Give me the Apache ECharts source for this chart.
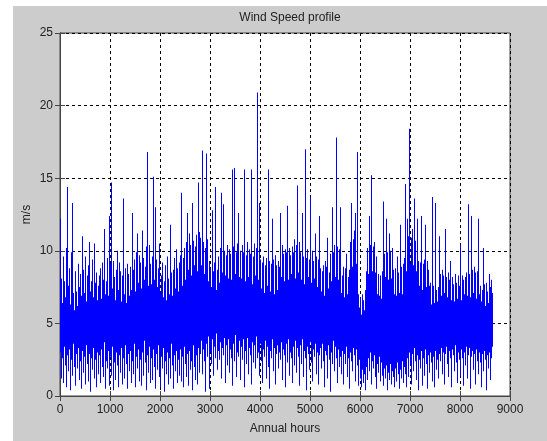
<!DOCTYPE html>
<html>
<head>
<meta charset="utf-8">
<script src="https://cdn.jsdelivr.net/npm/echarts@6/dist/echarts.min.js"></script>
<style>
  html, body { margin: 0; padding: 0; background: #fff; }
  #panel { position: absolute; left: 13px; top: 6px; width: 534px; height: 435px; background: #cccccc; }
  #main { position: absolute; left: 0; top: 0; width: 547px; height: 441px; }
</style>
</head>
<body>
<div id="panel"></div>
<div id="main"></div>
<script>
// hourly wind speed is too dense to read point by point, so each 20-hour
// slot keeps the highest and lowest speed (m/s) seen in it on the plot
var hourStep = 20;
var peak = [
  12.2, 8.1, 6.4, 9.6, 7.9, 6.8, 10.2, 14.4, 7.6, 8.8, 6.3, 9.9, 13.3, 7.1, 5.9, 8.6, 7.2, 6.2, 9.1, 7.5,
  8.4, 6.9, 11.0, 8.7, 7.1, 9.6, 6.5, 8.3, 9.0, 10.6, 7.2, 7.9, 9.4, 6.8, 10.5, 7.8, 8.5, 6.6, 7.6, 8.3,
  8.8, 6.7, 9.2, 8.0, 11.5, 7.0, 7.9, 9.5, 6.9, 12.4, 9.1, 14.7, 7.4, 9.3, 8.2, 6.6, 8.7, 10.0, 7.3, 9.2,
  8.6, 6.5, 8.3, 13.6, 7.0, 8.8, 6.4, 9.1, 8.4, 6.9, 8.9, 7.3, 12.6, 8.7, 9.4, 7.2, 9.9, 11.2, 7.8, 9.7,
  9.2, 7.4, 11.4, 9.5, 8.0, 8.9, 10.3, 16.8, 7.6, 10.4, 9.1, 7.7, 9.6, 15.1, 8.0, 13.0, 9.4, 7.5, 8.8, 10.5,
  7.1, 8.3, 9.2, 6.8, 7.9, 9.0, 6.6, 9.6, 8.1, 7.0, 11.8, 8.5, 6.9, 8.7, 9.5, 7.4, 10.1, 8.8, 7.2, 9.2,
  9.7, 14.0, 7.6, 9.5, 10.2, 8.0, 10.6, 12.6, 8.7, 11.2, 10.4, 8.3, 13.3, 10.7, 9.0, 10.3, 11.1, 8.6, 14.7, 11.3,
  10.9, 9.0, 16.9, 10.6, 8.4, 10.2, 16.7, 10.8, 7.9, 9.3, 8.8, 7.5, 12.8, 8.6, 9.2, 14.4, 7.3, 8.7, 9.6, 7.8,
  10.2, 14.0, 8.5, 13.2, 10.0, 8.3, 9.7, 10.4, 8.1, 10.1, 9.8, 8.0, 15.6, 10.3, 15.7, 8.4, 9.9, 10.5, 12.6, 8.2,
  10.0, 8.1, 10.4, 9.9, 15.6, 7.9, 9.7, 10.6, 8.2, 10.1, 9.8, 15.6, 7.7, 9.6, 10.5, 8.3, 10.2, 20.9, 8.0, 13.3,
  9.4, 7.4, 9.2, 9.6, 7.1, 9.0, 9.5, 7.6, 15.6, 9.3, 7.2, 9.1, 12.2, 9.4, 7.0, 9.7, 9.0, 7.3, 9.3, 8.9,
  12.6, 8.2, 10.4, 9.8, 7.9, 10.1, 9.9, 13.1, 8.0, 10.2, 9.7, 8.4, 10.3, 9.9, 10.8, 8.1, 10.4, 14.5, 8.5, 10.6,
  9.9, 8.0, 12.6, 9.6, 7.7, 17.0, 9.5, 10.1, 8.2, 9.4, 13.7, 7.8, 10.0, 9.3, 8.1, 11.2, 9.6, 7.5, 9.4, 12.4,
  8.8, 7.2, 8.6, 9.0, 6.9, 9.3, 8.9, 10.9, 7.4, 8.5, 9.8, 7.9, 13.0, 9.9, 10.4, 8.2, 17.8, 10.3, 8.0, 10.1,
  13.0, 7.1, 8.3, 8.9, 6.8, 8.8, 9.8, 7.0, 8.2, 8.7, 10.6, 13.3, 8.9, 10.8, 11.4, 12.6, 9.1, 16.8, 7.0, 6.1,
  6.8, 5.6, 7.0, 6.6, 5.9, 7.3, 8.6, 10.2, 8.4, 12.4, 10.4, 15.2, 8.6, 10.3, 10.6, 8.5, 9.6, 7.0, 8.4, 6.9,
  8.3, 6.7, 8.6, 13.4, 9.8, 8.2, 12.2, 9.9, 8.0, 11.2, 10.0, 8.1, 10.2, 8.7, 7.0, 8.8, 6.9, 9.6, 8.5, 7.1,
  11.8, 8.9, 7.0, 9.1, 9.5, 14.6, 8.6, 12.2, 11.0, 18.4, 9.1, 10.9, 11.5, 9.0, 13.6, 10.7, 8.6, 12.2, 9.3, 7.6,
  9.2, 12.4, 7.3, 9.1, 9.4, 11.8, 7.5, 9.3, 8.7, 7.6, 7.8, 6.3, 13.7, 7.6, 6.4, 13.3, 7.3, 6.5, 7.5, 11.0,
  8.4, 6.9, 8.7, 8.3, 7.1, 11.5, 8.2, 6.8, 8.5, 8.0, 9.3, 6.6, 8.2, 7.7, 6.5, 8.4, 7.8, 6.7, 8.3, 7.6,
  10.4, 6.6, 8.3, 8.0, 7.0, 8.2, 8.5, 6.9, 13.2, 8.4, 6.8, 12.4, 8.7, 7.1, 8.9, 8.5, 6.7, 8.6, 12.2, 7.0,
  7.6, 6.5, 7.3, 10.2, 7.7, 6.2, 7.8, 7.2, 6.4, 8.4, 7.5, 8.0, 7.1
];
var trough = [
  3.0, 1.2, 2.6, 0.9, 3.4, 2.1, 0.6, 2.8, 1.7, 3.2, 0.4, 2.5, 1.4, 3.6, 2.0, 0.7, 2.9, 1.9, 3.3, 1.1,
  2.4, 0.5, 3.1, 1.6, 2.7, 0.8, 3.5, 2.2, 1.0, 2.9, 0.3, 2.6, 1.8, 3.3, 1.2, 2.5, 0.6, 3.0, 1.5, 2.8,
  0.9, 3.2, 2.0, 1.3, 3.7, 0.5, 2.4, 1.9, 3.1, 0.7, 2.7, 1.4, 3.4, 0.4, 2.3, 1.1, 3.0, 2.1, 0.6, 2.8,
  1.6, 3.3, 0.8, 2.6, 1.2, 3.5, 2.2, 0.5, 2.9, 1.7, 3.1, 0.9, 2.4, 1.5, 3.6, 0.6, 2.7, 1.9, 3.2, 1.0,
  2.5, 0.7, 3.0, 1.4, 3.8, 2.3, 0.4, 2.8, 1.6, 3.4, 0.9, 2.6, 1.1, 3.2, 2.0, 0.5, 2.9, 1.8, 3.5, 1.3,
  0.6, 2.7, 1.9, 3.3, 0.3, 2.4, 1.5, 3.0, 0.8, 2.6, 1.2, 3.6, 2.1, 0.5, 2.8, 1.7, 3.1, 0.9, 2.5, 1.4,
  3.2, 1.0, 2.7, 0.6, 3.4, 2.2, 1.3, 2.9, 0.7, 3.1, 1.8, 2.4, 0.4, 3.5, 2.0, 1.1, 2.8, 0.8, 3.3, 1.6,
  2.9, 3.8, 1.5, 3.2, 2.4, 0.3, 3.6, 2.7, 4.1, 0.5, 3.0, 2.2, 3.9, 1.4, 3.4, 2.6, 4.3, 1.8, 3.1, 2.5,
  3.7, 1.2, 3.3, 2.8, 4.0, 0.9, 3.5, 2.1, 3.9, 1.6, 3.2, 2.6, 0.7, 3.6, 2.4, 4.2, 1.3, 3.0, 2.7, 3.8,
  1.1, 3.4, 2.5, 3.9, 0.6, 3.1, 2.2, 4.0, 1.5, 3.3, 2.8, 0.8, 3.7, 2.3, 3.5, 1.9, 4.1, 2.6, 3.0, 1.4,
  3.6, 2.4, 0.9, 3.2, 2.7, 3.8, 1.2, 3.4, 2.0, 0.5, 3.1, 2.6, 3.9, 1.7, 3.3, 0.8, 2.9, 3.5, 1.9, 3.0,
  2.5, 3.7, 1.1, 3.2, 2.8, 0.6, 3.6, 2.3, 3.9, 1.4, 3.0, 2.6, 0.9, 3.4, 2.1, 3.8, 1.6, 3.3, 2.7, 0.7,
  3.5, 2.2, 3.9, 1.3, 3.1, 2.6, 0.4, 3.4, 2.9, 1.8, 3.7, 2.3, 1.0, 3.2, 2.7, 3.6, 1.5, 3.0, 0.8, 2.8,
  3.3, 1.9, 3.6, 2.4, 0.6, 3.1, 2.8, 1.2, 3.5, 2.5, 0.3, 3.0, 2.2, 3.8, 1.7, 3.4, 2.6, 0.9, 3.2, 2.0,
  2.7, 1.5, 3.1, 0.8, 2.9, 2.2, 3.4, 1.3, 2.6, 0.5, 3.0, 2.4, 1.7, 3.3, 2.8, 1.0, 3.2, 2.1, 0.7, 2.5,
  1.2, 0.6, 1.8, 0.9, 1.5, 0.4, 2.0, 1.1, 2.6, 1.7, 3.0, 0.8, 2.4, 1.9, 2.8, 1.3, 0.5, 2.2, 1.6, 2.7,
  1.0, 2.3, 1.4, 0.7, 1.9, 1.2, 2.1, 0.4, 1.6, 1.1, 2.2, 0.8, 1.7, 1.3, 0.6, 1.9, 1.0, 2.3, 1.5, 0.5,
  1.8, 1.2, 2.4, 0.9, 2.0, 1.5, 0.6, 2.6, 1.3, 3.0, 2.2, 0.8, 2.9, 1.7, 3.3, 2.4, 1.1, 2.8, 0.4, 2.5,
  1.9, 3.1, 0.7, 2.6, 1.4, 3.2, 2.2, 0.5, 2.8, 1.6, 3.0, 2.3, 1.0, 2.7, 0.6, 3.1, 1.8, 2.5, 1.2, 2.9,
  2.4, 3.3, 1.5, 3.0, 0.8, 2.9, 3.4, 2.2, 1.3, 3.1, 2.6, 0.6, 3.2, 2.8, 1.7, 3.5, 2.3, 0.9, 3.0, 2.5,
  1.4, 3.2, 2.6, 0.7, 3.0, 2.1, 3.4, 1.2, 2.8, 3.3, 0.5, 2.7, 3.1, 1.8, 2.9, 0.8, 3.2, 2.4, 1.5, 3.0,
  2.3, 0.6, 2.9, 1.7, 3.1, 2.5, 0.4, 2.8, 1.9, 3.0, 1.1, 2.6, 3.4
];
var xTicks = { min: 0, max: 9000, step: 1000 };
var yTicks = { min: 0, max: 25, step: 5 };

var slots = peak.map(function (p, i) { return [i * hourStep, trough[i], p]; });

var myChart = echarts.init(document.getElementById('main'));
var font = 'Liberation Sans, Arial, sans-serif';
var option = {
  animation: false,
  backgroundColor: 'transparent',
  title: {
    text: 'Wind Speed profile',
    left: 285,
    top: 7,
    textAlign: 'center',
    textStyle: { fontFamily: font, fontSize: 12, fontWeight: 'normal', color: '#222' }
  },
  grid: {
    left: 60, right: 37, top: 33, bottom: 45,
    show: true, backgroundColor: '#fff', borderColor: '#444', borderWidth: 1
  },
  xAxis: [{
    type: 'value',
    min: xTicks.min, max: xTicks.max, interval: xTicks.step,
    name: 'Annual hours',
    nameLocation: 'middle',
    nameGap: 27,
    nameTextStyle: { fontFamily: font, fontSize: 12, color: '#222' },
    axisLine: { show: true, lineStyle: { color: '#444', width: 1 } },
    axisTick: { show: true, inside: true, length: 5, lineStyle: { color: '#444' } },
    axisLabel: {
      fontFamily: font, fontSize: 12, color: '#222', margin: 8,
      formatter: function (v) { return String(v); }
    },
    splitLine: { show: true, lineStyle: { color: '#000', type: [3, 3], width: 1 } }
  }, {
    type: 'value', position: 'top',
    min: xTicks.min, max: xTicks.max, interval: xTicks.step,
    axisLine: { show: true, lineStyle: { color: '#444', width: 1 } },
    axisTick: { show: true, inside: true, length: 5, lineStyle: { color: '#444' } },
    axisLabel: { show: false },
    splitLine: { show: false }
  }],
  yAxis: [{
    type: 'value',
    min: yTicks.min, max: yTicks.max, interval: yTicks.step,
    name: 'm/s',
    nameLocation: 'middle',
    nameGap: 27,
    nameMoveOverlap: false,
    nameRotate: 90,
    nameTextStyle: { fontFamily: font, fontSize: 12, color: '#222' },
    axisLine: { show: true, lineStyle: { color: '#444', width: 1 } },
    axisTick: { show: true, inside: true, length: 5, lineStyle: { color: '#444' } },
    axisLabel: { fontFamily: font, fontSize: 12, color: '#222', margin: 7 },
    splitLine: { show: true, lineStyle: { color: '#000', type: [3, 3], width: 1 } }
  }, {
    type: 'value', position: 'right',
    min: yTicks.min, max: yTicks.max, interval: yTicks.step,
    axisLine: { show: true, lineStyle: { color: '#444', width: 1 } },
    axisTick: { show: true, inside: true, length: 5, lineStyle: { color: '#444' } },
    axisLabel: { show: false },
    splitLine: { show: false }
  }],
  series: [{
    type: 'custom',
    data: slots,
    encode: { x: 0, y: [1, 2] },
    clip: true,
    z: 3,
    renderItem: function (params, api) {
      var lo = api.coord([api.value(0), api.value(1)]);
      var hi = api.coord([api.value(0), api.value(2)]);
      var w = api.size([hourStep, 0])[0];
      return {
        type: 'rect',
        shape: { x: lo[0], y: hi[1], width: w, height: lo[1] - hi[1] },
        style: { fill: '#0000ff' }
      };
    }
  }]
};
myChart.setOption(option);
</script>
</body>
</html>
